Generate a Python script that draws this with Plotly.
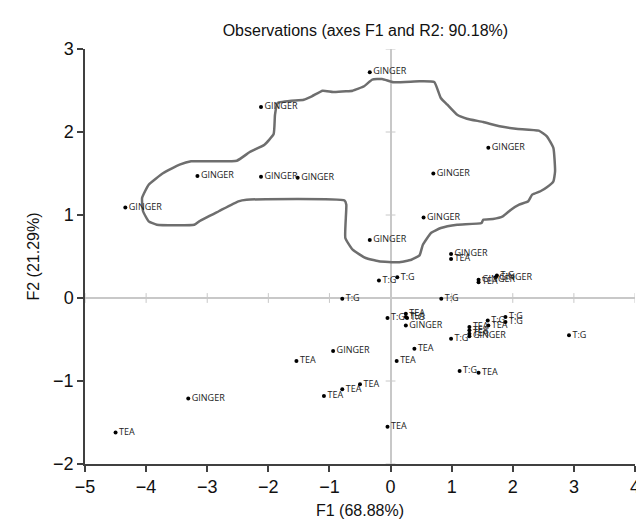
import plotly.graph_objects as go

# Observations (F1, F2) by group
ginger_x = [-0.34, 1.60, 0.70, 0.54, -0.34, 0.99, -2.12, -3.16, -2.12, -1.52, -4.34, 1.44, 1.72, 1.29, 0.25, -0.94, -3.31]
ginger_y = [2.72, 1.81, 1.50, 0.97, 0.70, 0.53, 2.30, 1.47, 1.46, 1.45, 1.09, 0.22, 0.25, -0.46, -0.33, -0.64, -1.21]

tea_x = [0.99, 1.44, 1.29, 1.60, 1.29, 1.29, 0.25, 0.25, 0.39, 0.10, -1.54, 1.44, -0.79, -0.50, -1.09, -0.05, -4.50]
tea_y = [0.47, 0.19, -0.35, -0.33, -0.39, -0.43, -0.19, -0.23, -0.61, -0.76, -0.76, -0.90, -1.10, -1.04, -1.18, -1.55, -1.62]

tg_x = [1.74, 0.83, 1.59, 1.88, 1.88, 0.99, 2.92, -0.19, 0.11, -0.79, -0.05, 0.27, 1.13]
tg_y = [0.27, -0.01, -0.27, -0.23, -0.29, -0.49, -0.45, 0.21, 0.25, -0.01, -0.24, -0.24, -0.88]

# Hand-drawn outline around the GINGER group (data units)
outline_x = [-4.066, -3.958, -3.718, -3.452, -3.264, -2.516, -2.303, -2.063, -1.913, -1.891, -1.849,
             -1.421, -1.288, -1.112, -0.941, -0.728, -0.620, -0.433, -0.300, -0.139, 0.048, 0.474,
             0.715, 0.822, 0.929, 1.090, 1.250, 1.516, 1.784, 2.051, 2.425, 2.558, 2.665, 2.692,
             2.665, 2.558, 2.452, 2.317, 2.253, 2.104, 1.971, 1.837, 1.676, 1.516, 1.490, 1.090,
             0.822, 0.662, 0.529, 0.474, 0.341, 0.128, -0.192, -0.407, -0.620, -0.740, -0.724,
             -0.753, -2.356, -2.490, -2.811, -3.131, -3.212, -3.825, -3.958, -4.050, -4.066]
outline_y = [1.205, 1.365, 1.506, 1.606, 1.647, 1.654, 1.759, 1.847, 1.976, 2.208, 2.349,
             2.389, 2.430, 2.498, 2.482, 2.490, 2.498, 2.551, 2.630, 2.639, 2.599, 2.611,
             2.602, 2.410, 2.329, 2.208, 2.160, 2.120, 2.069, 2.040, 2.016, 1.948, 1.807, 1.527,
             1.406, 1.334, 1.286, 1.245, 1.165, 1.124, 1.064, 0.984, 0.952, 0.943, 0.904, 0.883,
             0.843, 0.783, 0.642, 0.514, 0.461, 0.430, 0.442, 0.482, 0.582, 0.723, 1.124,
             1.175, 1.184, 1.165, 1.045, 0.924, 0.883, 0.883, 0.924, 1.045, 1.205]

x_ticks = [-5, -4, -3, -2, -1, 0, 1, 2, 3, 4]
y_ticks = [-2, -1, 0, 1, 2, 3]

fig = go.Figure()

# small tick marks along the zero lines
fig.add_trace(go.Scatter(x=[0] * len(y_ticks), y=y_ticks, mode="markers",
                         marker=dict(symbol="line-ew-open", size=7, color="#c8c8c8", line=dict(width=1, color="#c8c8c8")),
                         hoverinfo="skip", showlegend=False))
fig.add_trace(go.Scatter(x=x_ticks, y=[0] * len(x_ticks), mode="markers",
                         marker=dict(symbol="line-ns-open", size=7, color="#c8c8c8", line=dict(width=1, color="#c8c8c8")),
                         hoverinfo="skip", showlegend=False))

fig.add_trace(go.Scatter(x=outline_x, y=outline_y, mode="lines",
                         line=dict(color="#6e6e6e", width=2.5, shape="spline", smoothing=0.4),
                         hoverinfo="skip", showlegend=False))

label_font = dict(family="Open Sans", size=9, color="#222222")
for xs, ys, name in [(ginger_x, ginger_y, "GINGER"), (tea_x, tea_y, "TEA"), (tg_x, tg_y, "T:G")]:
    fig.add_trace(go.Scatter(x=xs, y=ys, mode="markers+text", text=[name] * len(xs),
                             textposition="middle right", textfont=label_font,
                             marker=dict(size=4, color="black"), name=name, showlegend=False,
                             cliponaxis=False))

axis_common = dict(showgrid=False, zeroline=True, zerolinecolor="#c8c8c8", zerolinewidth=1.5,
                   showline=True, linecolor="#404040", linewidth=1.5,
                   ticks="outside", ticklen=6, tickwidth=1.5, tickcolor="#404040",
                   tickfont=dict(family="Liberation Sans", size=18, color="#111111"),
                   title_font=dict(family="Liberation Sans", size=16, color="#111111"))

fig.update_layout(
    width=644, height=528,
    margin=dict(l=77, r=14, t=41, b=72),
    paper_bgcolor="white", plot_bgcolor="white",
    title=dict(text="Observations (axes F1 and R2: 90.18%)", x=0.555, xanchor="center", y=0.968,
               font=dict(family="Liberation Sans", size=16, color="#111111")),
    xaxis=dict(range=[-5, 4], tickvals=x_ticks, title=dict(text="F1 (68.88%)", standoff=8), **axis_common),
    yaxis=dict(range=[-2, 3], tickvals=y_ticks, title=dict(text="F2 (21.29%)", standoff=10), **axis_common),
)

fig.write_html("out.html")
